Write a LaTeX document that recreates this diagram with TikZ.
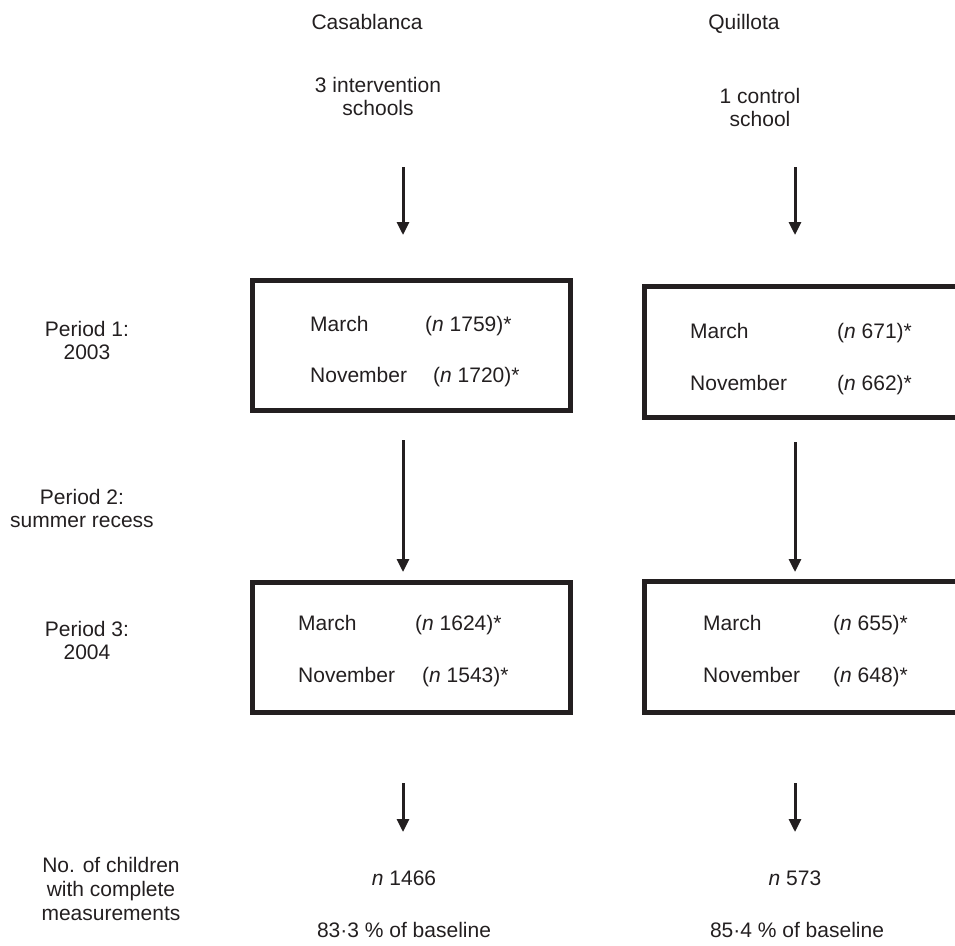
\documentclass[tikz,border=0pt]{standalone}
\usepackage{fontspec}
\setmainfont{Liberation Sans}
\usetikzlibrary{arrows.meta}
\definecolor{ink}{HTML}{231F20}
\begin{document}
\begin{tikzpicture}[x=1pt,y=-1pt,
  every node/.style={text=ink,font=\fontsize{21}{23}\selectfont,inner sep=0pt},
  lbl/.style={anchor=base,align=center},
  txt/.style={anchor=base west},
  frame/.style={draw=ink,line width=5pt,minimum width=318pt,minimum height=130pt,inner sep=0pt},
  flow/.style={draw=ink,line width=3pt,-{Triangle[width=12pt,length=13pt]}}]
\useasboundingbox (0,0) rectangle (955,945);
\clip (0,0) rectangle (955,945);
% column headings
\node[lbl] (casa) at (367,29) {Casablanca};
\node[lbl] (quil) at (744,29) {Quillota};
\node[lbl] (interv) at (378,115) {3 intervention\\schools};
\node[lbl] (ctrl) at (760,126) {1 control\\school};
% row labels
\node[lbl] (p1) at (87,359) {Period 1:\\2003};
\node[lbl] (p2) at (82,527) {Period 2:\\summer recess};
\node[lbl] (p3) at (87,659) {Period 3:\\2004};
\node[lbl,font=\fontsize{21}{24}\selectfont] (nochild) at (111,920) {No. of children\\with complete\\measurements};
% boxes
\node[frame] (b1) at (411.5,345.5) {};
\node[frame,minimum height=131pt] (b2) at (803.5,352) {};
\node[frame] (b3) at (411.5,647.5) {};
\node[frame,minimum height=131pt] (b4) at (803.5,647) {};
% box texts
\node[txt] (b1m) at (310,331) {March};
\node[txt] (b1mn) at (425,331) {(\textit{n} 1759)*};
\node[txt] (b1n) at (310,382) {November};
\node[txt] (b1nn) at (433,382) {(\textit{n} 1720)*};
\node[txt] (b2m) at (690,338) {March};
\node[txt] (b2mn) at (837,338) {(\textit{n} 671)*};
\node[txt] (b2n) at (690,390) {November};
\node[txt] (b2nn) at (837,390) {(\textit{n} 662)*};
\node[txt] (b3m) at (298,630) {March};
\node[txt] (b3mn) at (415,630) {(\textit{n} 1624)*};
\node[txt] (b3n) at (298,682) {November};
\node[txt] (b3nn) at (422,682) {(\textit{n} 1543)*};
\node[txt] (b4m) at (703,630) {March};
\node[txt] (b4mn) at (833,630) {(\textit{n} 655)*};
\node[txt] (b4n) at (703,682) {November};
\node[txt] (b4nn) at (833,682) {(\textit{n} 648)*};
% results
\node[lbl] (r1) at (404,885) {\textit{n} 1466};
\node[lbl] (r1p) at (404,937) {83·3 \% of baseline};
\node[lbl] (r2) at (795,885) {\textit{n} 573};
\node[lbl] (r2p) at (797,937) {85·4 \% of baseline};
% arrow end points
\coordinate (a1s) at (403,167); \coordinate (a1e) at (403,235);
\coordinate (a2s) at (795,167); \coordinate (a2e) at (795,235);
\coordinate (a3s) at (403,440); \coordinate (a3e) at (403,572);
\coordinate (a4s) at (795,442); \coordinate (a4e) at (795,572);
\coordinate (a5s) at (403,783); \coordinate (a5e) at (403,832);
\coordinate (a6s) at (795,783); \coordinate (a6e) at (795,832);
\draw[flow] (a1s) -- (a1e);
\draw[flow] (a2s) -- (a2e);
\draw[flow] (a3s) -- (a3e);
\draw[flow] (a4s) -- (a4e);
\draw[flow] (a5s) -- (a5e);
\draw[flow] (a6s) -- (a6e);
\end{tikzpicture}
\end{document}
